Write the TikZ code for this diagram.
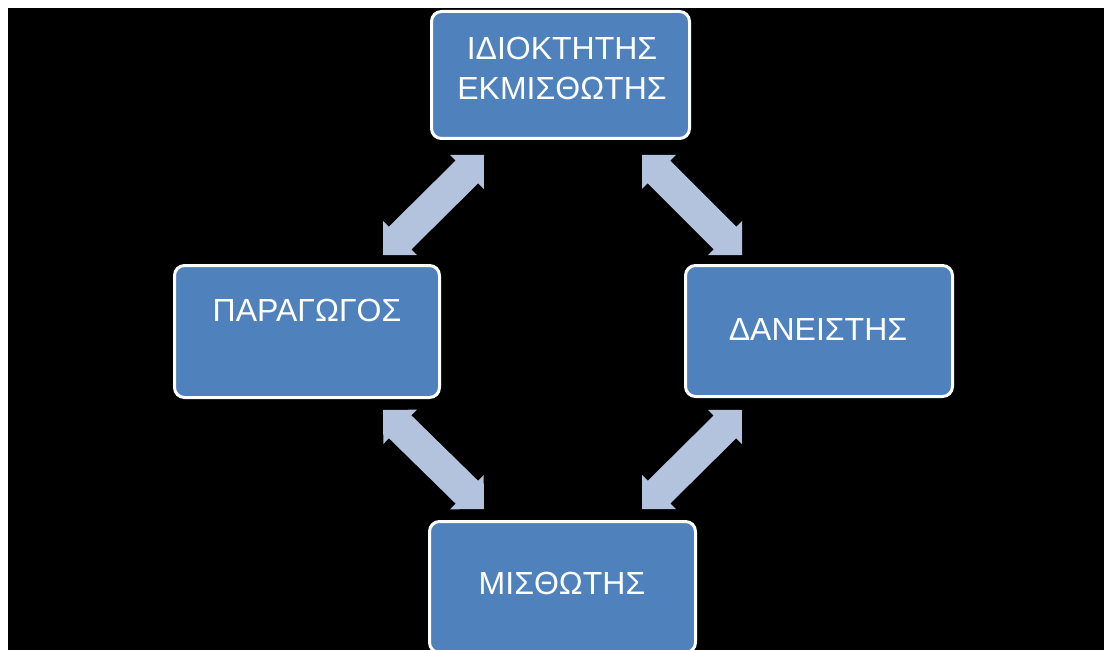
\documentclass[tikz,border=0pt]{standalone}
\usepackage{fontspec}
\setmainfont{Liberation Sans}
\usetikzlibrary{calc}
\definecolor{boxblue}{RGB}{79,129,189}
\definecolor{arrowblue}{RGB}{179,195,222}
\tikzset{
  box/.style={draw=white, line width=3pt, fill=boxblue, rounded corners=10pt, inner sep=0pt},
  lbl/.style={text=white, font=\fontsize{32}{40}\selectfont, align=center, inner sep=0pt},
  blockarrow/.style={fill=arrowblue}
}
\newcommand\dblarrow[2]{%
  \fill[blockarrow] (#1)
    -- ($(#1)!24pt!(#2)!24pt!90:(#2)$)
    -- ($(#1)!24pt!(#2)!16pt!90:(#2)$)
    -- ($(#2)!24pt!(#1)!16pt!-90:(#1)$)
    -- ($(#2)!24pt!(#1)!24pt!-90:(#1)$)
    -- (#2)
    -- ($(#2)!24pt!(#1)!24pt!90:(#1)$)
    -- ($(#2)!24pt!(#1)!16pt!90:(#1)$)
    -- ($(#1)!24pt!(#2)!16pt!-90:(#2)$)
    -- ($(#1)!24pt!(#2)!24pt!-90:(#2)$)
    -- cycle;}
\begin{document}
\begin{tikzpicture}[x=1pt, y=-1pt]
  \clip (0,0) rectangle (1104,650);
  \fill[white] (0,0) rectangle (1104,650);
  \fill[black] (8,8) rectangle (1104,650);
  % boxes
  \node[box, minimum width=258pt, minimum height=127pt] (owner) at (560.5,75) {};
  \node[box, minimum width=265pt, minimum height=132pt] (producer) at (307,331.5) {};
  \node[box, minimum width=267pt, minimum height=131pt] (lender) at (819,331) {};
  \node[box, minimum width=266pt, minimum height=131pt] (tenant) at (562.5,587) {};
  % texts
  \node[lbl] (ownerT) at (562,68) {ΙΔΙΟΚΤΗΤΗΣ\\ΕΚΜΙΣΘΩΤΗΣ};
  \node[lbl] (producerT) at (307,310) {ΠΑΡΑΓΩΓΟΣ};
  \node[lbl] (lenderT) at (818,329) {ΔΑΝΕΙΣΤΗΣ};
  \node[lbl] (tenantT) at (562,583) {ΜΙΣΘΩΤΗΣ};
  % arrow end points
  \coordinate (tlA) at (484,155);
  \coordinate (tlB) at (383,255);
  \coordinate (trA) at (642,155);
  \coordinate (trB) at (742,255);
  \coordinate (blA) at (383,410);
  \coordinate (blB) at (484,509);
  \coordinate (brA) at (742,410);
  \coordinate (brB) at (642,509);
  \dblarrow{tlA}{tlB}
  \dblarrow{trA}{trB}
  \dblarrow{blA}{blB}
  \dblarrow{brA}{brB}
\end{tikzpicture}
\end{document}
